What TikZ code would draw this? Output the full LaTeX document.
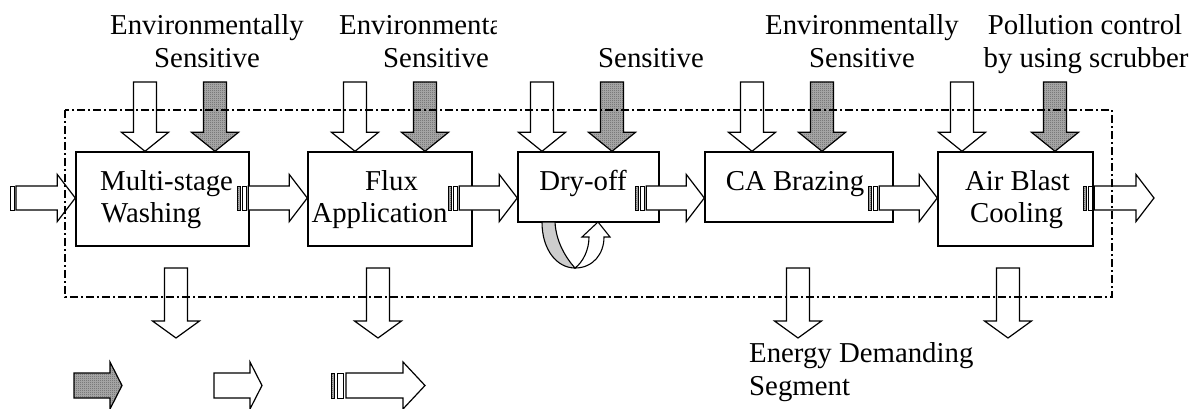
\documentclass[tikz,border=0pt]{standalone}
\usepackage{fontspec}
\setmainfont{Liberation Serif}
\usetikzlibrary{calc,patterns}

\definecolor{shadelight}{RGB}{175,175,175}
\definecolor{shadedark}{RGB}{95,95,95}
\definecolor{loopgray}{RGB}{205,205,205}

% fine checker texture for the shaded arrows
\pgfdeclarepatternformonly{finechecks}{\pgfpointorigin}{\pgfpoint{2pt}{2pt}}{\pgfpoint{2pt}{2pt}}{%
  \pgfpathrectangle{\pgfpointorigin}{\pgfpoint{1pt}{1pt}}%
  \pgfpathrectangle{\pgfpoint{1pt}{1pt}}{\pgfpoint{1pt}{1pt}}%
  \pgfusepath{fill}}

\tikzset{
  box/.style={draw, line width=1.4pt, fill=white, inner sep=0pt},
  blk/.style={draw, line width=1.2pt, fill=white, line join=miter},
  blkdark/.style={draw, line width=1.2pt, line join=miter, preaction={fill=shadelight},
    pattern=finechecks, pattern color=shadedark},
  txt/.style={inner sep=0pt, font=\fontsize{28.8}{33}\selectfont, anchor=base},
  txtl/.style={txt, anchor=base west},
  frame/.style={line width=1.1pt, dash pattern=on 8pt off 3pt on 2pt off 3pt},
}

% vertical block arrow: #1 top of shaft, #2 tip, #3 head length, #4 style
\newcommand{\vblock}[4]{%
  \draw[#4] ($(#1)+(-11.5,0)$) -- ($(#2)+(-11.5,-#3)$) -- ($(#2)+(-23.5,-#3)$)
    -- (#2) -- ($(#2)+(23.5,-#3)$) -- ($(#2)+(11.5,-#3)$) -- ($(#1)+(11.5,0)$) -- cycle;}

% horizontal block arrow body: #1 tail, #2 tip, #3 head length, #4 shaft half height, #5 style
\newcommand{\hblock}[5]{%
  \draw[#5] ($(#1)+(0,-#4)$) -- ($(#2)+(-#3,-#4)$) -- ($(#2)+(-#3,-23.5)$)
    -- (#2) -- ($(#2)+(-#3,23.5)$) -- ($(#2)+(-#3,#4)$) -- ($(#1)+(0,#4)$) -- cycle;}

% tail stripe: #1 reference point, #2 left offset, #3 right offset, #4 half height, #5 style
\newcommand{\tailstripe}[5]{%
  \draw[#5, line width=0.9pt] ($(#1)+(#2,-#4)$) rectangle ($(#1)+(#3,#4)$);}

\begin{document}
\begin{tikzpicture}[x=1pt,y=-1pt]
\useasboundingbox (0,0) rectangle (1199,409);

% process boxes
\node[box, minimum width=173pt, minimum height=94pt] (b1) at (162.5,199) {};
\node[box, minimum width=164pt, minimum height=94pt] (b2) at (390,199) {};
\node[box, minimum width=141pt, minimum height=70pt] (b3) at (588.5,187) {};
\node[box, minimum width=188pt, minimum height=70pt] (b4) at (799,187) {};
\node[box, minimum width=155pt, minimum height=94pt] (b5) at (1015.5,199) {};

% box labels
\node[txtl] (t1a) at (100,190) {Multi-stage};
\node[txtl] (t1b) at (101,222) {Washing};
\node[txt] (t2a) at (391.5,190) {Flux};
\node[txt] (t2b) at (379.5,222) {Application};
\node[txt] (t3a) at (583,190) {Dry-off};
\node[txt] (t4a) at (795,190) {CA Brazing};
\node[txt] (t5a) at (1017.5,190) {Air Blast};
\node[txt] (t5b) at (1016.5,222) {Cooling};

% inputs from above: plain (white) and shaded arrows
\foreach \b/\xw/\xg in {b1/145/215, b2/355/425, b3/542/612, b4/752/822, b5/962/1055}{
  \coordinate (tw) at (\xw,82);
  \coordinate (hw) at (tw |- \b.north);
  \vblock{tw}{hw}{19}{blk}
  \coordinate (tg) at (\xg,82);
  \coordinate (hg) at (tg |- \b.north);
  \vblock{tg}{hg}{19}{blkdark}
}

% outputs below
\foreach \x in {176,378,798,1008}{
  \coordinate (ot) at (\x,268);
  \coordinate (oh) at (\x,338);
  \vblock{ot}{oh}{17}{blk}
}

% main flow line
\coordinate (flow) at (0,198);

% feed into the first stage
\coordinate (in0) at (10,198);
\tailstripe{in0}{0}{4.5}{12}{blk}
\hblock{$(in0)+(6,0)$}{b1.west |- flow}{18}{12}{blk}

% striped arrows between stages
\foreach \a/\b/\d in {b1/b2/12, b2/b3/24, b3/b4/24, b4/b5/25}{
  \coordinate (st) at ($(\a.east |- flow)+(-\d,0)$);
  \tailstripe{st}{0}{3}{12}{blkdark}
  \tailstripe{st}{4.5}{8.5}{12}{blk}
  \hblock{$(st)+(10.5,0)$}{\b.west |- flow}{18}{12}{blk}
}

% product leaving the line
\coordinate (ex) at ($(b5.east |- flow)+(-10,0)$);
\coordinate (exh) at (1154,198);
\tailstripe{ex}{0}{3}{12}{blkdark}
\tailstripe{ex}{4.5}{8.5}{12}{blk}
\hblock{$(ex)+(10.5,0)$}{exh}{18}{12}{blk}

% recirculation loop under the dry-off stage
\fill[loopgray, draw=black, line width=1.1pt] (542,222) .. controls (542,250) and (557,268) .. (575,268)
  .. controls (566,258) and (556,242) .. (555,222) -- cycle;
\draw[blk, line width=1.1pt] (575,268) .. controls (593,268) and (604,254) .. (604,237)
  -- (610,237) -- (598,222) -- (582,237) -- (589,237)
  .. controls (589,250) and (583,262) .. (575,268) -- cycle;

% system boundary
\draw[frame] (65,110) rectangle (1112,297);

% labels above
\node[txt] (l1a) at (207,35) {Environmentally};
\node[txt] (l1b) at (207,68) {Sensitive};
\begin{scope}
  \clip (300,0) rectangle (496,50);
  \node[txt] (l2a) at (436,35) {Environmentally};
\end{scope}
\node[txt] (l2b) at (436,68) {Sensitive};
\node[txt] (l3b) at (651,68) {Sensitive};
\node[txt] (l4a) at (862,35) {Environmentally};
\node[txt] (l4b) at (862,68) {Sensitive};
\node[txt] (l5a) at (1085,35) {Pollution control};
\node[txt] (l5b) at (1086,68) {by using scrubber};

% label below
\node[txtl] (e1) at (749,362) {Energy Demanding};
\node[txtl] (e2) at (749,395) {Segment};

% key arrows
\coordinate (k1t) at (74,385.5);  \coordinate (k1h) at (122,385.5);
\hblock{k1t}{k1h}{12}{12.5}{blkdark}
\coordinate (k2t) at (214,385.5); \coordinate (k2h) at (262,385.5);
\hblock{k2t}{k2h}{12}{12.5}{blk}
\coordinate (k3t) at (331,385.5); \coordinate (k3h) at (425,385.5);
\tailstripe{k3t}{0}{3}{12.5}{blkdark}
\tailstripe{k3t}{6}{12}{12.5}{blk}
\hblock{$(k3t)+(15,0)$}{k3h}{22}{12.5}{blk}
\end{tikzpicture}
\end{document}
